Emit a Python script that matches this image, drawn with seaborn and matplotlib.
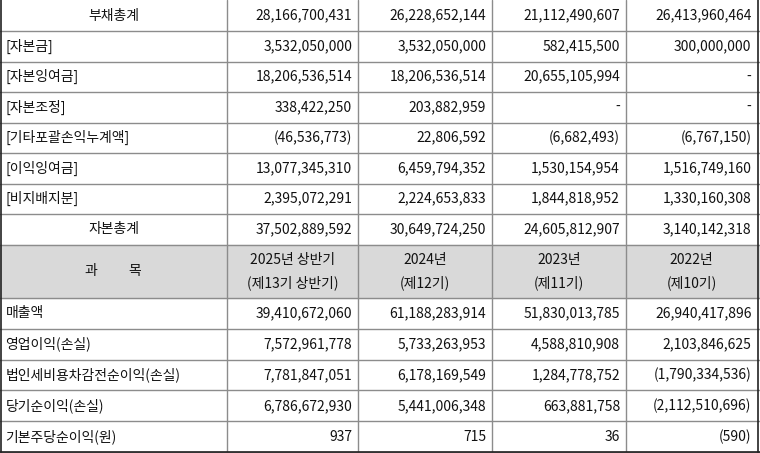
import matplotlib
matplotlib.use("Agg")
import matplotlib.pyplot as plt
import seaborn as sns

sns.set_theme(style="white")
plt.rcParams['font.family'] = ['Noto Sans CJK KR', 'DejaVu Sans']

labels_top = ["부채총계", "[자본금]", "[자본잉여금]", "[자본조정]", "[기타포괄손익누계액]",
              "[이익잉여금]", "[비지배지분]", "자본총계"]
values_top = [
    ["28,166,700,431", "26,228,652,144", "21,112,490,607", "26,413,960,464"],
    ["3,532,050,000", "3,532,050,000", "582,415,500", "300,000,000"],
    ["18,206,536,514", "18,206,536,514", "20,655,105,994", "-"],
    ["338,422,250", "203,882,959", "-", "-"],
    ["(46,536,773)", "22,806,592", "(6,682,493)", "(6,767,150)"],
    ["13,077,345,310", "6,459,794,352", "1,530,154,954", "1,516,749,160"],
    ["2,395,072,291", "2,224,653,833", "1,844,818,952", "1,330,160,308"],
    ["37,502,889,592", "30,649,724,250", "24,605,812,907", "3,140,142,318"],
]
header_label = "과          목"
header_cols = ["2025년 상반기\n(제13기 상반기)", "2024년\n(제12기)", "2023년\n(제11기)", "2022년\n(제10기)"]
labels_bot = ["매출액", "영업이익(손실)", "법인세비용차감전순이익(손실)", "당기순이익(손실)", "기본주당순이익(원)"]
values_bot = [
    ["39,410,672,060", "61,188,283,914", "51,830,013,785", "26,940,417,896"],
    ["7,572,961,778", "5,733,263,953", "4,588,810,908", "2,103,846,625"],
    ["7,781,847,051", "6,178,169,549", "1,284,778,752", "(1,790,334,536)"],
    ["6,786,672,930", "5,441,006,348", "663,881,758", "(2,112,510,696)"],
    ["937", "715", "36", "(590)"],
]
centered = {"부채총계", "자본총계"}

W, H = 760, 453
fig = plt.figure(figsize=(7.6, 4.53), dpi=100)
ax = fig.add_axes([0, 0, 1, 1])
ax.set_xlim(0, W); ax.set_ylim(H, 0); ax.axis("off")

xs = [0.5, 227, 358, 492, 626, 757.5]
fs = 10
line_c = "#8c8c8c"

def row(y0, y1, label, vals, center=False):
    yc = (y0 + y1) / 2
    if center:
        ax.text((xs[0] + xs[1]) / 2, yc, label, ha="center", va="center", fontsize=fs, color="#111")
    else:
        ax.text(xs[0] + 5, yc, label, ha="left", va="center", fontsize=fs, color="#111")
    for i, v in enumerate(vals):
        ax.text(xs[i + 2] - 6, yc, v, ha="right", va="center", fontsize=fs, color="#111")
    ax.plot([0, W], [y1, y1], color=line_c, lw=1)

y = 0.5
rh = 30.5
for lab, vals in zip(labels_top, values_top):
    row(y, y + rh, lab, vals, lab in centered)
    y += rh
hy0, hy1 = y, 298
ax.add_patch(plt.Rectangle((0, hy0), W, hy1 - hy0, color="#d9d9d9", zorder=0))
ax.text((xs[0] + xs[1]) / 2, (hy0 + hy1) / 2, header_label, ha="center", va="center", fontsize=fs, color="#111")
for i, h in enumerate(header_cols):
    ax.text((xs[i + 1] + xs[i + 2]) / 2, (hy0 + hy1) / 2, h, ha="center", va="center",
            fontsize=fs, color="#111", linespacing=1.7)
ax.plot([0, W], [hy1, hy1], color=line_c, lw=1)
y = hy1
rb = (452 - hy1) / len(labels_bot)
for lab, vals in zip(labels_bot, values_bot):
    row(y, y + rb, lab, vals)
    y += rb

for x in xs[1:-1]:
    ax.plot([x, x], [0, 452], color=line_c, lw=1)
ax.plot([xs[0], xs[0]], [0, 452], color="#222", lw=1.2)
ax.plot([xs[-1], xs[-1]], [0, 452], color="#222", lw=1.2)
ax.plot([0, W], [451.5, 451.5], color="#222", lw=1.2)

fig.savefig("out.png", dpi=100)
